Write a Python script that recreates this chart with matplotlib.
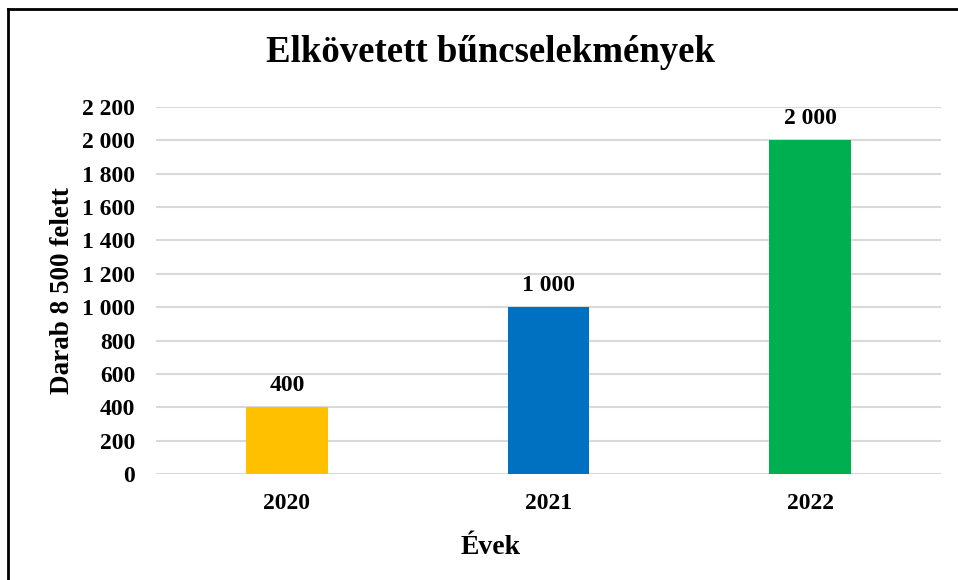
import matplotlib.pyplot as plt
from matplotlib.lines import Line2D

# data
years = ["2020", "2021", "2022"]
counts = [400, 1000, 2000]
bar_colors = ["#FFC000", "#0070C0", "#00B050"]
yticks = list(range(0, 2201, 200))


def fmt(v):
    # hungarian style thousands separator
    return f"{v:,.0f}".replace(",", " ")


plt.rcParams['font.family'] = ['Liberation Serif', 'DejaVu Serif']
plt.rcParams['font.weight'] = 'bold'

fig = plt.figure(figsize=(9.58, 5.8), dpi=100)
ax = fig.add_axes([156 / 958, 106 / 580, 785 / 958, 367 / 580])

x = range(len(years))
ax.bar(x, counts, width=0.313, color=bar_colors, zorder=3)

for xi, v in zip(x, counts):
    ax.annotate(fmt(v), (xi, v), xytext=(0, 8), textcoords='offset points',
                ha='center', va='bottom', fontsize=17, fontweight='bold')

ax.set_xlim(-0.5, 2.5)
ax.set_ylim(0, 2200)
ax.set_yticks(yticks)
ax.set_yticklabels([fmt(t) for t in yticks])
ax.set_xticks(list(x))
ax.set_xticklabels(years)
ax.tick_params(axis='both', length=0, labelsize=17)
ax.tick_params(axis='y', pad=15)
ax.tick_params(axis='x', pad=14)
for lab in ax.get_xticklabels() + ax.get_yticklabels():
    lab.set_fontweight('bold')

ax.grid(axis='y', color='#D9D9D9', linewidth=1.5, zorder=0)
for s in ax.spines.values():
    s.set_visible(False)

ax.set_ylabel("Darab 8 500 felett", fontsize=19.5, fontweight='bold', labelpad=5)
fig.text(491 / 958, 1 - 548 / 580, "Évek", ha='center', va='center',
         fontsize=20, fontweight='bold')
fig.text(490 / 958, 1 - 53 / 580, "Elkövetett bűncselekmények", ha='center',
         va='center', fontsize=26.5, fontweight='bold')

# frame around the chart (right and bottom edges fall outside the picture)
fig.add_artist(Line2D([8 / 958, 8 / 958], [0, 1 - 9 / 580], transform=fig.transFigure,
                      color='black', linewidth=2))
fig.add_artist(Line2D([8 / 958, 1], [1 - 9 / 580, 1 - 9 / 580], transform=fig.transFigure,
                      color='black', linewidth=2))

fig.savefig("out.png", dpi=100)
